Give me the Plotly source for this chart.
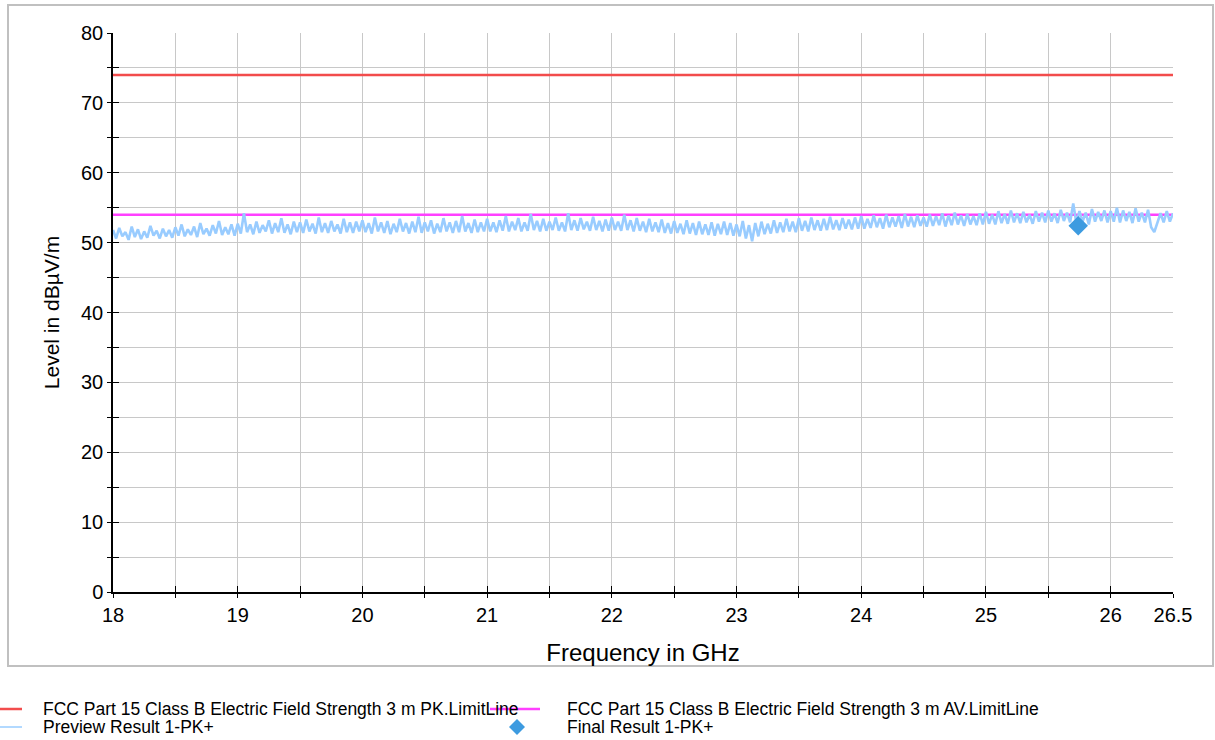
import plotly.graph_objects as go

# ---------------- data ----------------
f_start, f_step = 18.0, 0.025  # GHz sweep grid of the preview trace
preview_level = [
    # 18 GHz
    51.8,50.6,52.1,50.9,51.5,50.4,52.3,50.8,51.9,50.5,51.6,50.7,52.4,51.0,51.7,50.6,52.0,50.9,51.8,50.7,
    52.2,51.0,52.6,50.9,51.9,51.1,52.3,50.8,52.8,51.2,52.0,51.0,52.5,51.3,53.1,51.1,52.2,51.2,52.6,51.0,
    # 19 GHz
    52.7,51.3,54.2,51.5,52.6,51.2,53.0,51.4,52.5,51.6,53.2,51.3,52.8,51.5,53.5,51.4,52.6,51.2,53.0,51.5,
    52.9,51.4,53.3,51.6,52.7,51.3,53.6,51.5,52.8,51.4,53.1,51.6,52.6,51.3,53.4,51.5,52.9,51.4,53.0,51.6,
    # 20 GHz
    53.2,51.5,52.8,51.3,53.6,51.6,52.9,51.4,53.1,51.2,52.7,51.5,53.4,51.6,52.8,51.3,53.0,51.5,53.7,51.4,
    52.9,51.6,53.2,51.3,52.7,51.5,53.5,51.6,52.9,51.4,53.1,51.5,53.8,51.6,52.8,51.4,53.3,51.5,52.9,51.6,
    # 21 GHz
    53.4,51.6,52.9,51.5,53.2,51.7,53.8,51.6,53.0,51.8,53.5,51.6,52.9,51.7,54.1,51.8,53.1,51.6,53.4,51.7,
    53.0,51.8,53.6,51.7,52.9,51.6,54.2,51.8,53.2,51.7,53.5,51.9,53.0,51.7,53.7,51.8,53.1,51.6,53.3,51.7,
    # 22 GHz
    53.6,51.8,53.0,51.7,54.0,51.8,53.2,51.6,53.5,51.7,53.0,51.5,53.4,51.6,52.9,51.5,53.3,51.4,52.8,51.3,
    53.1,51.4,52.7,51.2,53.2,51.3,52.8,51.1,53.0,51.2,52.6,51.1,52.9,51.0,52.7,51.2,53.0,51.1,52.8,51.0,
    # 23 GHz
    52.6,50.9,53.1,50.6,52.5,50.2,52.8,50.9,53.0,51.2,52.7,51.3,53.2,51.4,52.9,51.5,53.4,51.6,53.0,51.5,
    53.5,51.7,53.1,51.6,53.6,51.8,53.2,51.7,53.4,51.8,53.7,51.9,53.2,51.8,53.5,52.0,53.3,51.9,53.6,52.0,
    # 24 GHz
    53.8,52.0,53.4,52.1,53.9,52.2,53.5,52.0,54.0,52.2,53.6,52.3,53.8,52.1,54.1,52.3,53.7,52.2,53.9,52.4,
    53.6,52.3,54.0,52.4,53.8,52.5,54.2,52.3,53.9,52.5,54.3,52.6,53.9,52.4,54.1,52.6,53.8,52.5,54.2,52.6,
    # 25 GHz
    54.4,52.7,54.0,52.6,54.5,52.8,54.1,52.7,54.6,52.9,54.2,52.8,54.4,52.9,54.0,52.7,54.5,53.0,54.3,52.9,
    54.6,53.0,54.2,52.8,54.7,53.1,54.3,52.9,55.6,52.8,54.5,53.0,54.3,52.6,54.8,53.0,54.4,53.1,54.6,52.9,
    # 26 GHz
    54.5,53.0,55.0,52.9,54.6,53.1,54.4,52.8,54.9,53.0,54.3,52.9,54.7,52.2,51.5,53.0,54.2,52.9,54.5,53.0,54.2,
]
preview_freq = [f_start + i * f_step for i in range(len(preview_level))]

limit_freq = [18.0, 26.5]
pk_limit = [74.0, 74.0]
av_limit = [54.0, 54.0]

final_freq = [25.74]
final_level = [52.4]

x_tick_vals = [18, 19, 20, 21, 22, 23, 24, 25, 26, 26.5]
x_tick_text = ["18", "19", "20", "21", "22", "23", "24", "25", "26", "26.5"]

series_names = [
    "FCC Part 15 Class B Electric Field Strength 3 m PK.LimitLine",
    "FCC Part 15 Class B Electric Field Strength 3 m AV.LimitLine",
    "Preview Result 1-PK+",
    "Final Result 1-PK+",
]
series_colors = ["#f24c4c", "#ff40ff", "#99ccff", "#3d9be0"]

# ---------------- figure ----------------
FONT = "Arial, Liberation Sans, sans-serif"
W, H = 1215, 740
ML, MR, MT, MB = 113, 42, 33, 148
PW, PH = W - ML - MR, H - MT - MB


def px(xp):
    return (xp - ML) / PW


def py(yp):
    return (H - MB - yp) / PH


fig = go.Figure()
fig.add_trace(go.Scatter(x=limit_freq, y=pk_limit, mode="lines", name=series_names[0],
                         line=dict(color=series_colors[0], width=2.5)))
fig.add_trace(go.Scatter(x=limit_freq, y=av_limit, mode="lines", name=series_names[1],
                         line=dict(color=series_colors[1], width=2.5)))
fig.add_trace(go.Scatter(x=preview_freq, y=preview_level, mode="lines", name=series_names[2],
                         line=dict(color=series_colors[2], width=2.6)))
fig.add_trace(go.Scatter(x=final_freq, y=final_level, mode="markers", name=series_names[3],
                         marker=dict(symbol="diamond", size=15, color=series_colors[3])))

# helper trace for the overlay axes that draw inside (crossing) tick marks
fig.add_trace(go.Scatter(x=[18], y=[0], xaxis="x2", yaxis="y2", mode="markers",
                         marker=dict(opacity=0), showlegend=False, hoverinfo="skip"))

# ---- manual legend (two columns at the bottom of the page) ----
LEG_FONT = 17.5
legend_items = [  # (name idx, sample x0, sample x1, text x, row y, kind)
    (0, 0, 22, 41, 709, "line"),
    (1, 490, 540, 565, 709, "line"),
    (2, 0, 22, 41, 727, "line"),
    (3, 509, 525, 565, 727, "diamond"),
]
shapes = [dict(type="rect", xref="paper", yref="paper",
               x0=px(8), x1=px(1213), y0=py(666), y1=py(5),
               line=dict(color="#c0c0c0", width=2), layer="below")]
annotations = []
for idx, x0, x1, tx, ry, kind in legend_items:
    if kind == "line":
        shapes.append(dict(type="line", xref="paper", yref="paper",
                           x0=px(x0), x1=px(x1), y0=py(ry), y1=py(ry),
                           line=dict(color=series_colors[idx], width=2.5 if idx < 2 else 1.5)))
    else:
        cx = (x0 + x1) / 2
        hw = (x1 - x0) / 2
        path = (f"M {px(cx - hw)} {py(ry)} L {px(cx)} {py(ry - hw)} "
                f"L {px(cx + hw)} {py(ry)} L {px(cx)} {py(ry + hw)} Z")
        shapes.append(dict(type="path", xref="paper", yref="paper", path=path,
                           fillcolor=series_colors[idx], line=dict(width=0)))
    annotations.append(dict(xref="paper", yref="paper", x=px(tx), y=py(ry),
                            xanchor="left", yanchor="middle", showarrow=False,
                            text=series_names[idx],
                            font=dict(size=LEG_FONT, family=FONT, color="black")))

fig.update_layout(
    width=W, height=H,
    margin=dict(l=ML, r=MR, t=MT, b=MB),
    paper_bgcolor="white", plot_bgcolor="white",
    font=dict(family=FONT, color="black"),
    showlegend=False,
    xaxis=dict(range=[18, 26.5], tickvals=x_tick_vals, ticktext=x_tick_text,
               showgrid=True, gridcolor="#c8c8c8", gridwidth=1,
               minor=dict(dtick=0.5, tick0=18, showgrid=True, gridcolor="#c8c8c8",
                          ticks="outside", ticklen=4, tickcolor="black"),
               ticks="outside", ticklen=4, tickcolor="black",
               showline=True, linecolor="black", linewidth=1.5,
               zeroline=False, tickfont=dict(size=20), automargin=False,
               title=dict(text="Frequency in GHz", font=dict(size=24), standoff=19)),
    yaxis=dict(range=[0, 80], dtick=10, tick0=0,
               showgrid=True, gridcolor="#c8c8c8", gridwidth=1,
               minor=dict(dtick=5, showgrid=True, gridcolor="#c8c8c8",
                          ticks="outside", ticklen=4, tickcolor="black"),
               ticks="outside", ticklen=4, tickcolor="black",
               showline=True, linecolor="black", linewidth=1.5,
               zeroline=False, tickfont=dict(size=20), automargin=False,
               title=dict(text="Level in dBµV/m", font=dict(size=21), standoff=16)),
    xaxis2=dict(range=[18, 26.5], overlaying="x", anchor="y2", side="bottom",
                tick0=18, dtick=0.5, ticks="inside", ticklen=6, tickcolor="black",
                showticklabels=False, showgrid=False, zeroline=False, showline=False),
    yaxis2=dict(range=[0, 80], overlaying="y", anchor="x2", side="left",
                tick0=0, dtick=5, ticks="inside", ticklen=6, tickcolor="black",
                showticklabels=False, showgrid=False, zeroline=False, showline=False),
    shapes=shapes,
    annotations=annotations,
)

fig.write_html("out.html")
